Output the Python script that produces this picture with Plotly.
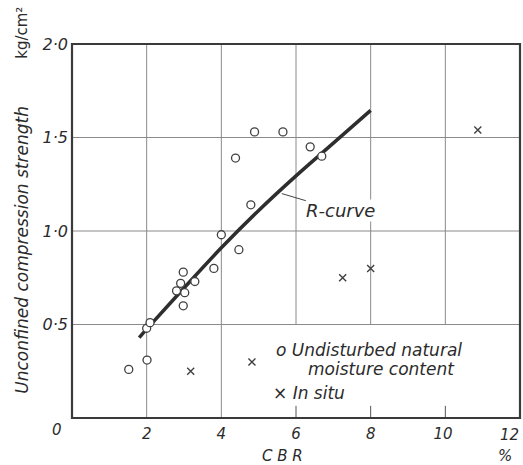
import plotly.graph_objects as go

# --- data ---
undisturbed_cbr = [1.52, 2.01, 2.00, 2.09, 2.80, 2.91, 2.98, 3.02, 2.98, 3.29, 3.80, 4.00,
                   4.47, 4.79, 4.38, 4.89, 5.65, 6.38, 6.69]
undisturbed_ucs = [0.26, 0.31, 0.48, 0.51, 0.68, 0.72, 0.78, 0.67, 0.60, 0.73, 0.80, 0.98,
                   0.90, 1.14, 1.39, 1.53, 1.53, 1.45, 1.40]
insitu_cbr = [3.18, 4.82, 7.25, 8.00, 10.87]
insitu_ucs = [0.25, 0.30, 0.75, 0.80, 1.54]
rcurve_cbr = [1.8, 2.0, 3.0, 4.0, 5.0, 6.0, 7.0, 8.0]
rcurve_ucs = [0.43, 0.475, 0.695, 0.91, 1.11, 1.295, 1.47, 1.645]

x_ticks = [2, 4, 6, 8, 10]
x_ticktext = ["2", "4", "6", "8", "10\u00a0"]
x_last_tick = 12
y_ticks = [0.5, 1.0, 1.5, 2.0]
y_ticktext = ["0·5", "1·0", "1·5", "2·0"]

FONT = "DejaVu Sans"
TXT = "#2b2b2b"
GRID = "#8a8a8a"
FRAME = "#3a3a3a"
MARK = "#404040"

fig = go.Figure()

fig.add_trace(go.Scatter(
    x=rcurve_cbr, y=rcurve_ucs, mode="lines",
    line=dict(color="#2e2e2e", width=3.5, shape="spline", smoothing=1.0),
    hoverinfo="skip", showlegend=False))

fig.add_trace(go.Scatter(
    x=undisturbed_cbr, y=undisturbed_ucs, mode="markers",
    marker=dict(symbol="circle", size=8, color="white",
                line=dict(color=MARK, width=1.3)),
    showlegend=False))

fig.add_trace(go.Scatter(
    x=insitu_cbr, y=insitu_ucs, mode="markers",
    marker=dict(symbol="x-thin-open", size=7, color=MARK,
                line=dict(color=MARK, width=1.4)),
    showlegend=False))

shapes = []
# gridlines
for xv in x_ticks:
    if xv <= 4:
        shapes.append(dict(type="line", xref="x", yref="y", x0=xv, x1=xv, y0=0, y1=2,
                           line=dict(color=GRID, width=1), layer="below"))
    else:
        shapes.append(dict(type="line", xref="x", yref="y", x0=xv, x1=xv, y0=0.5, y1=2,
                           line=dict(color=GRID, width=1), layer="below"))
        shapes.append(dict(type="line", xref="x", yref="y", x0=xv, x1=xv, y0=0, y1=0.065,
                           line=dict(color="#555555", width=1), layer="below"))
for yv in y_ticks[:-1]:
    shapes.append(dict(type="line", xref="x", yref="y", x0=0, x1=12, y0=yv, y1=yv,
                       line=dict(color=GRID, width=1), layer="below"))
# frame
shapes.append(dict(type="rect", xref="paper", yref="paper", x0=0, x1=1, y0=0, y1=1,
                   line=dict(color=FRAME, width=2.2)))

it = dict(family=FONT, size=17, color=TXT, style="italic")
small_it = dict(family=FONT, size=15, color=TXT, style="italic")
ann = []
# R-curve label with leader line
ann.append(dict(x=5.62, y=1.2, xref="x", yref="y", ax=7.2, ay=1.107, axref="x", ayref="y",
                text="R-curve", showarrow=True, arrowhead=0, arrowwidth=1,
                arrowcolor="#444", standoff=0,
                font=dict(family=FONT, size=18, color=TXT, style="italic"),
                bgcolor="white", borderpad=0))
# legend text
ann.append(dict(x=5.40, y=0.362, xref="x", yref="y", xanchor="left", yanchor="middle",
                text="o Undisturbed natural", showarrow=False, font=it))
ann.append(dict(x=6.28, y=0.264, xref="x", yref="y", xanchor="left", yanchor="middle",
                text="moisture content", showarrow=False, font=it))
ann.append(dict(x=5.33, y=0.132, xref="x", yref="y", xanchor="left", yanchor="middle",
                text="× In situ", showarrow=False, font=it))
# last x tick label (kept inside the page)
ann.append(dict(x=x_last_tick, y=0, xref="x", yref="paper", text=str(x_last_tick),
                showarrow=False, xanchor="right", yanchor="top", xshift=1, yshift=-6,
                font=small_it))
# origin label
ann.append(dict(x=0, y=0, xref="paper", yref="paper", text="0", showarrow=False,
                xanchor="center", yanchor="middle", xshift=-15, yshift=-12, font=small_it))
# axis titles
ann.append(dict(x=0.47, y=0, xref="paper", yref="paper", text="C B R", showarrow=False,
                xanchor="center", yanchor="middle", yshift=-38, font=small_it))
ann.append(dict(x=0.966, y=0, xref="paper", yref="paper", text="%", showarrow=False,
                xanchor="center", yanchor="middle", yshift=-38, font=small_it))
ann.append(dict(x=0, y=0.45, xref="paper", yref="paper", xanchor="center",
                yanchor="middle", text="Unconfined compression strength",
                textangle=-90, showarrow=False, xshift=-50,
                font=dict(family=FONT, size=17, color=TXT, style="italic")))
ann.append(dict(x=0, y=1.03, xref="paper", yref="paper", xanchor="center",
                yanchor="middle", text="kg/cm²", textangle=-90, showarrow=False,
                xshift=-50, font=dict(family=FONT, size=15, color=TXT)))

fig.update_layout(
    width=523, height=465,
    margin=dict(l=72, r=3, t=44, b=47),
    paper_bgcolor="white", plot_bgcolor="white",
    shapes=shapes, annotations=ann,
    xaxis=dict(range=[0, 12], tickvals=x_ticks, ticktext=x_ticktext, showgrid=False,
               zeroline=False, showline=False, ticks="", automargin=False,
               ticklabeloverflow="allow", ticklabelstandoff=5,
               tickfont=dict(family=FONT, size=15, color=TXT, style="italic")),
    yaxis=dict(range=[0, 2], tickvals=y_ticks, ticktext=y_ticktext, showgrid=False,
               zeroline=False, showline=False, ticks="", automargin=False,
               ticklabelstandoff=3,
               tickfont=dict(family=FONT, size=16, color=TXT, style="italic")),
)

fig.write_html("out.html", config={"displayModeBar": False},
               post_script="document.body.style.margin='0';document.body.style.overflow='hidden';")
